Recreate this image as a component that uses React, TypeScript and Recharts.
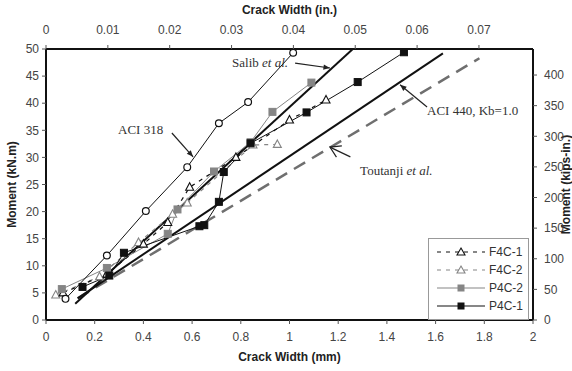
import { ComposedChart, Line, XAxis, YAxis, ReferenceLine, ReferenceDot, Label } from 'recharts';

// axis ticks
const mmTicks = [0, 0.2, 0.4, 0.6, 0.8, 1, 1.2, 1.4, 1.6, 1.8, 2];
const inTicks = [0, 0.01, 0.02, 0.03, 0.04, 0.05, 0.06, 0.07];
const knTicks = [0, 5, 10, 15, 20, 25, 30, 35, 40, 45, 50];
const kipTicks = [0, 50, 100, 150, 200, 250, 300, 350, 400];

// crack width (mm), moment (kN.m)
const aci318 = [[0.08, 3.9], [0.25, 11.9], [0.41, 20.1], [0.58, 28.2], [0.71, 36.3], [0.83, 40.2], [1.015, 49.3]];
const salib = [[0.12, 3], [1.26, 50]];
const aci440 = [[0.13, 4], [1.63, 49.2]];
const toutanji = [[0.13, 4], [1.78, 48.3]];
const f4c1 = [[0.07, 5], [0.25, 8.5], [0.4, 14], [0.5, 18], [0.59, 24.5], [0.78, 30], [1.0, 36.9], [1.15, 40.6]];
const f4c2 = [[0.04, 4.6], [0.22, 8], [0.38, 14.3], [0.52, 19.5], [0.58, 21.6], [0.85, 32.3], [0.95, 32.4]];
const p4c2 = [[0.065, 5.7], [0.25, 9.6], [0.5, 15.9], [0.54, 20.4], [0.69, 27.4], [0.84, 32.8], [0.93, 38.4], [1.09, 43.8]];
const p4c1 = [[0.15, 6.1], [0.26, 8.2], [0.32, 12.4], [0.63, 17.3], [0.65, 17.5], [0.71, 21.8], [0.73, 27.3], [0.84, 32.6], [1.07, 38.3], [1.28, 43.9], [1.47, 49.4]];

const MM_PER_IN = 25.4;
const KIPIN_PER_KNM = 8.85;

const toPts = (arr: number[][]) => arr.map(([x, y]) => ({ x, y }));
// same ACI 318 points in imperial units, only to bind the top/right axes
const imperial = aci318.map(([x, y]) => ({ x: x / MM_PER_IN, y: y * KIPIN_PER_KNM }));

const BLACK = '#111';
const GRAY = '#858585';
const SANS = '"Liberation Sans", Arial, sans-serif';
const SERIF = '"Liberation Serif", "Times New Roman", serif';

const circleDot = (p: any) =>
  p.cx == null ? null : <circle key={p.index} cx={p.cx} cy={p.cy} r={3.4} fill="#fff" stroke={BLACK} strokeWidth={1.2} />;

const squareDot = (color: string) => (p: any) =>
  p.cx == null ? null : <rect key={p.index} x={p.cx - 3.5} y={p.cy - 3.5} width={7} height={7} fill={color} stroke={color} />;

const triDot = (color: string) => (p: any) =>
  p.cx == null ? null : (
    <polygon
      key={p.index}
      points={`${p.cx},${p.cy - 4.5} ${p.cx + 4},${p.cy + 3} ${p.cx - 4},${p.cy + 3}`}
      fill="#fff"
      stroke={color}
      strokeWidth={1.1}
    />
  );

const arrow = (open: boolean) => (p: any) => {
  const { x1, y1, x2, y2 } = p;
  const a = Math.atan2(y2 - y1, x2 - x1);
  const L = open ? 12 : 7;
  const w = open ? 0.55 : 0.4;
  const ax = x2 - L * Math.cos(a - w);
  const ay = y2 - L * Math.sin(a - w);
  const bx = x2 - L * Math.cos(a + w);
  const by = y2 - L * Math.sin(a + w);
  return (
    <g>
      <line x1={x1} y1={y1} x2={x2} y2={y2} stroke="#222" strokeWidth={1.2} />
      {open ? (
        <polyline points={`${ax},${ay} ${x2},${y2} ${bx},${by}`} fill="none" stroke="#222" strokeWidth={1.2} />
      ) : (
        <polygon points={`${ax},${ay} ${x2},${y2} ${bx},${by}`} fill="#222" />
      )}
    </g>
  );
};

const note = (main: string, ital?: string) => (p: any) => (
  <text x={p.cx} y={p.cy} fontFamily={SERIF} fontSize={13} fill="#333">
    {main}
    {ital ? <tspan fontStyle="italic">{ital}</tspan> : null}
  </text>
);

const legendRows = [
  { name: 'F4C-1', color: BLACK, dash: '4 5', mark: 'tri' },
  { name: 'F4C-2', color: GRAY, dash: '4 5', mark: 'tri' },
  { name: 'P4C-2', color: GRAY, dash: undefined, mark: 'sq' },
  { name: 'P4C-1', color: BLACK, dash: undefined, mark: 'sq' },
];

function LegendBox() {
  return (
    <div style={{ position: 'absolute', left: 428, top: 238, width: 101, height: 82, border: '1px solid #999',
      background: '#fff', boxSizing: 'border-box', paddingTop: 4 }}>
      {legendRows.map((r) => (
        <div key={r.name} style={{ display: 'flex', alignItems: 'center', height: 18 }}>
          <svg width={60} height={18}>
            <line x1={8} y1={9} x2={56} y2={9} stroke={r.color} strokeWidth={1.2} strokeDasharray={r.dash} />
            {r.mark === 'tri' ? (
              <polygon points="32,5 36,12 28,12" fill="#fff" stroke={r.color} strokeWidth={1.1} />
            ) : (
              <rect x={28.5} y={5.5} width={7} height={7} fill={r.color} />
            )}
          </svg>
          <span style={{ fontFamily: SANS, fontSize: 12, color: '#333' }}>{r.name}</span>
        </div>
      ))}
    </div>
  );
}

const vLabel = (text: string, x: number) => (p: any) => {
  const vb = p.viewBox;
  const cy = vb.y + vb.height / 2;
  return (
    <text x={x} y={cy} transform={`rotate(-90 ${x} ${cy})`} textAnchor="middle" dominantBaseline="central"
      fontFamily={SANS} fontSize={12} fontWeight="bold" fill="#222">
      {text}
    </text>
  );
};

const hLabel = (text: string, y: number) => (p: any) => {
  const vb = p.viewBox;
  const cx = vb.x + vb.width / 2;
  return (
    <text x={cx} y={y} textAnchor="middle" dominantBaseline="central" fontFamily={SANS} fontSize={12} fontWeight="bold" fill="#222">
      {text}
    </text>
  );
};

const tickStyle = { fill: '#444', fontSize: 12, fontFamily: SANS };

export default function App() {
  return (
    <div style={{ position: 'absolute', left: 0, top: 0, width: 572, height: 371, background: '#fff' }}>
      <ComposedChart width={572} height={371} margin={{ top: 7, right: 9, bottom: 9, left: 0 }}>
        <XAxis xAxisId="mm" type="number" dataKey="x" domain={[0, 2]} ticks={mmTicks} allowDataOverflow
          height={42} tick={tickStyle} tickSize={4} tickMargin={8} tickLine={{ stroke: '#555' }} axisLine={{ stroke: BLACK, strokeWidth: 2 }}>
          <Label content={hLabel('Crack Width (mm)', 357)} />
        </XAxis>
        <XAxis xAxisId="in" orientation="top" type="number" dataKey="x" domain={[0, 2 / MM_PER_IN]} ticks={inTicks} allowDataOverflow
          height={42} tick={tickStyle} tickSize={4} tickMargin={11} tickLine={{ stroke: '#555' }} axisLine={{ stroke: BLACK, strokeWidth: 2 }}>
          <Label content={hLabel('Crack Width (in.)', 10)} />
        </XAxis>
        <YAxis yAxisId="kn" type="number" domain={[0, 50]} ticks={knTicks} allowDataOverflow width={46}
          tick={tickStyle} tickSize={4} tickMargin={3} tickLine={{ stroke: '#555' }} axisLine={{ stroke: BLACK, strokeWidth: 2 }}>
          <Label content={vLabel('Moment (kN.m)', 12)} />
        </YAxis>
        <YAxis yAxisId="kip" orientation="right" type="number" domain={[0, 50 * KIPIN_PER_KNM]} ticks={kipTicks} allowDataOverflow width={30}
          tick={tickStyle} tickSize={4} tickMargin={7} tickLine={{ stroke: '#555' }} axisLine={{ stroke: BLACK, strokeWidth: 2 }}>
          <Label content={vLabel('Moment (kips-in.)', 566)} />
        </YAxis>

        <Line xAxisId="in" yAxisId="kip" data={imperial} dataKey="y" stroke="none" strokeOpacity={0}
          dot={false} activeDot={false} isAnimationActive={false} legendType="none" />
        <Line xAxisId="mm" yAxisId="kn" data={toPts(toutanji)} dataKey="y" stroke="#6f6f6f" strokeWidth={2.5}
          strokeDasharray="13 8" dot={false} isAnimationActive={false} legendType="none" />
        <Line xAxisId="mm" yAxisId="kn" data={toPts(aci440)} dataKey="y" stroke={BLACK} strokeWidth={2}
          dot={false} isAnimationActive={false} legendType="none" />
        <Line xAxisId="mm" yAxisId="kn" data={toPts(salib)} dataKey="y" stroke={BLACK} strokeWidth={2}
          dot={false} isAnimationActive={false} legendType="none" />
        <Line xAxisId="mm" yAxisId="kn" data={toPts(f4c2)} dataKey="y" stroke={GRAY} strokeWidth={1.2}
          strokeDasharray="4 5" dot={triDot(GRAY)} isAnimationActive={false} />
        <Line xAxisId="mm" yAxisId="kn" data={toPts(f4c1)} dataKey="y" stroke={BLACK} strokeWidth={1.2}
          strokeDasharray="4 5" dot={triDot(BLACK)} isAnimationActive={false} />
        <Line xAxisId="mm" yAxisId="kn" data={toPts(p4c2)} dataKey="y" stroke={GRAY} strokeWidth={1}
          dot={squareDot(GRAY)} isAnimationActive={false} />
        <Line xAxisId="mm" yAxisId="kn" data={toPts(p4c1)} dataKey="y" stroke={BLACK} strokeWidth={1}
          dot={squareDot(BLACK)} isAnimationActive={false} />
        <Line xAxisId="mm" yAxisId="kn" data={toPts(aci318)} dataKey="y" stroke={BLACK} strokeWidth={1}
          dot={circleDot} isAnimationActive={false} legendType="none" />

        <ReferenceLine xAxisId="mm" yAxisId="kn" segment={[{ x: 0.517, y: 34.5 }, { x: 0.604, y: 30.1 }]} shape={arrow(false)} />
        <ReferenceLine xAxisId="mm" yAxisId="kn" segment={[{ x: 1.023, y: 47.4 }, { x: 1.166, y: 46.5 }]} shape={arrow(false)} />
        <ReferenceLine xAxisId="mm" yAxisId="kn" segment={[{ x: 1.565, y: 39.3 }, { x: 1.454, y: 43.4 }]} shape={arrow(false)} />
        <ReferenceLine xAxisId="mm" yAxisId="kn" segment={[{ x: 1.25, y: 30.1 }, { x: 1.166, y: 31.9 }]} shape={arrow(true)} />

        <ReferenceDot xAxisId="mm" yAxisId="kn" x={0.296} y={34.3} r={0} shape={note('ACI 318')} />
        <ReferenceDot xAxisId="mm" yAxisId="kn" x={0.764} y={46.7} r={0} shape={note('Salib ', 'et al.')} />
        <ReferenceDot xAxisId="mm" yAxisId="kn" x={1.565} y={37.8} r={0} shape={note('ACI 440, Kb=1.0')} />
        <ReferenceDot xAxisId="mm" yAxisId="kn" x={1.29} y={26.8} r={0} shape={note('Toutanji ', 'et al.')} />
      </ComposedChart>
      <LegendBox />
    </div>
  );
}
